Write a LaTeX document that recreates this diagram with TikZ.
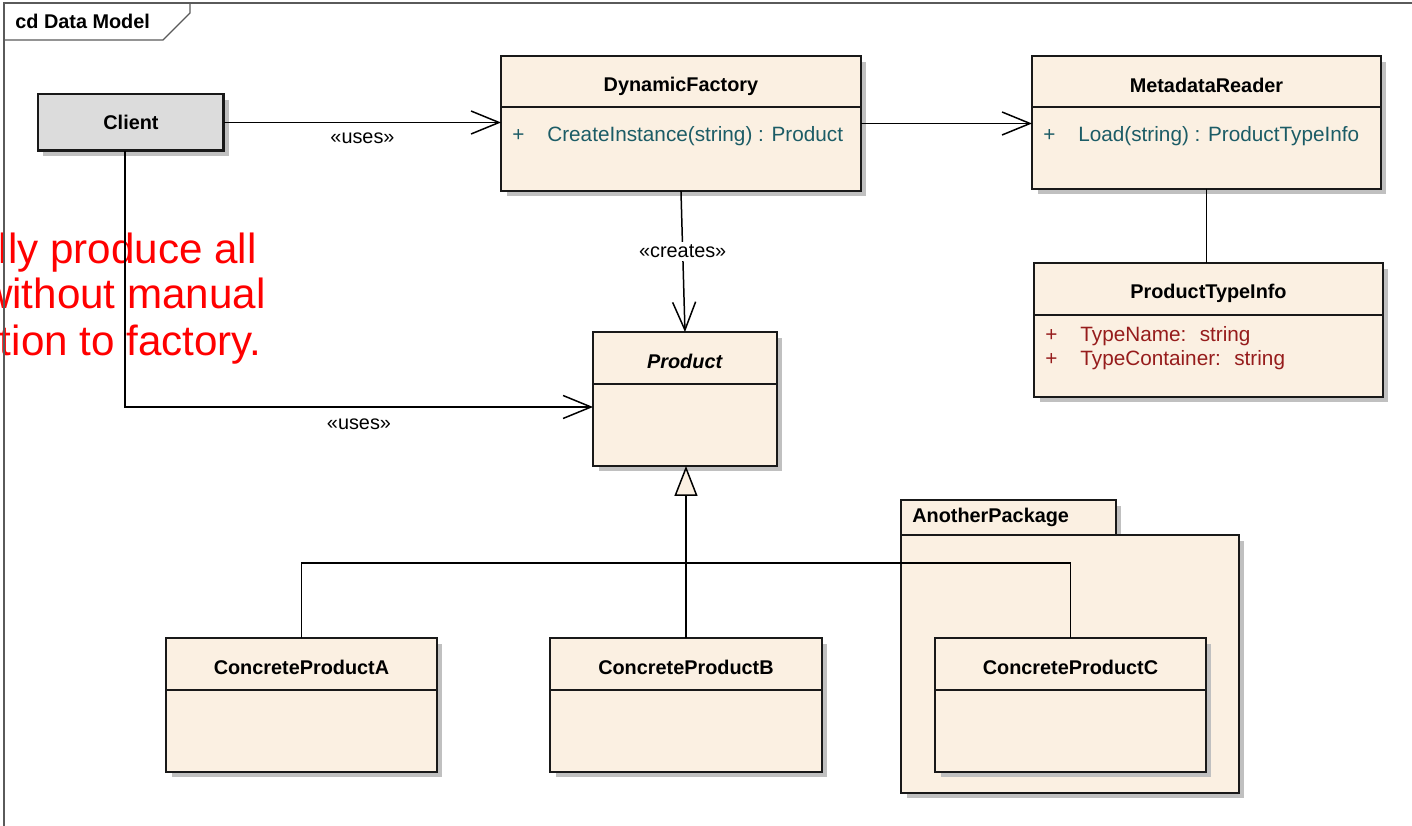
\documentclass[tikz,border=0pt]{standalone}
\usepackage{fontspec}
\setmainfont{Liberation Sans}
\usetikzlibrary{positioning}
\usetikzlibrary{arrows.meta}
\usetikzlibrary{shadows}

\definecolor{classfill}{RGB}{251,240,226}
\definecolor{clientfill}{RGB}{220,220,220}
\definecolor{shadowgray}{RGB}{192,192,192}
\definecolor{opteal}{RGB}{28,92,102}
\definecolor{attrred}{RGB}{150,28,28}
\definecolor{memored}{RGB}{255,0,0}
\definecolor{framegray}{RGB}{90,90,90}

\newcommand{\umlsize}{\fontsize{11.3pt}{13.5pt}\selectfont}
\newcommand{\membersize}{\fontsize{11.8pt}{14pt}\selectfont}
\newcommand{\memosize}{\fontsize{24pt}{28pt}\selectfont}

\tikzset{
  classbox/.style={draw=black!90, line width=1.1pt, fill=classfill, inner sep=0pt,
    outer sep=0pt, anchor=north west,
    drop shadow={shadow xshift=0.11cm, shadow yshift=-0.11cm, fill=shadowgray, opacity=1}},
  clientbox/.style={classbox, fill=clientfill, line width=1.7pt, font=\umlsize\bfseries},
  divider/.style={line width=0.9pt, black!90},
  ctitle/.style={font=\umlsize\bfseries, inner sep=0pt},
  opline/.style={font=\membersize, text=opteal, inner sep=0pt},
  attrline/.style={opline, text=attrred},
  uses/.style={line width=0.85pt, -{Straight Barb[length=0.56cm, width=0.46cm]}},
  inherit/.style={line width=0.85pt, -{Triangle[length=0.6cm, width=0.46cm, fill=classfill]}},
  plainline/.style={line width=0.85pt},
  stereo/.style={font=\umlsize, inner sep=1.5pt},
  memo/.style={font=\memosize, text=memored, inner sep=0pt, anchor=base east},
}

\begin{document}
\begin{tikzpicture}[x=0.02cm, y=-0.02cm]
    \useasboundingbox (0,0) rectangle (1412,825);
    \clip (0,0) rectangle (1412,825);
    %% 注释文字
    \node[memo] (memo1) at (257,263) {lly produce all};
    \node[memo] (memo2) at (266,308) {without manual};
    \node[memo] (memo3) at (262,355) {tion to factory.};
    %% 框架
    \draw[framegray, line width=0.8pt] (4,3) rectangle (1440,850);
    \draw[framegray, line width=0.8pt] (4,40) -- (163,40) -- (190,13) -- (190,3);
    \node[ctitle, anchor=west] (frametitle) at (15,21) {cd Data Model};
    %% 类
    \node[clientbox, minimum width=3.72cm, minimum height=1.14cm] (client) at (38,94) {Client};
    \node[classbox, minimum width=7.2cm, minimum height=2.7cm] (df) at (501,56) {};
    \node[classbox, minimum width=6.98cm, minimum height=2.66cm] (mr) at (1032,56) {};
    \node[classbox, minimum width=6.98cm, minimum height=2.68cm] (pti) at (1034,263) {};
    \node[classbox, minimum width=3.68cm, minimum height=2.68cm] (prod) at (593,332) {};
    %% 包
    \node[classbox, minimum width=4.3cm, minimum height=0.7cm] (pkgtab) at (901,500) {};
    \node[classbox, minimum width=6.76cm, minimum height=5.16cm] (pkg) at (901,535) {};
    \node[ctitle, right=0.22cm of pkgtab.west] (pkgname) {AnotherPackage};
    %---
    \node[classbox, minimum width=5.42cm, minimum height=2.68cm] (cpa) at (166,638) {};
    \node[classbox, minimum width=5.44cm, minimum height=2.68cm] (cpb) at (550,638) {};
    \node[classbox, minimum width=5.42cm, minimum height=2.68cm] (cpc) at (935,638) {};
    %% 分隔线
    \draw[divider] ([yshift=-1.02cm]df.north west) -- ([yshift=-1.02cm]df.north east);
    \draw[divider] ([yshift=-1.02cm]mr.north west) -- ([yshift=-1.02cm]mr.north east);
    \draw[divider] ([yshift=-1.04cm]pti.north west) -- ([yshift=-1.04cm]pti.north east);
    \draw[divider] ([yshift=-1.04cm]prod.north west) -- ([yshift=-1.04cm]prod.north east);
    \draw[divider] ([yshift=-1.04cm]cpa.north west) -- ([yshift=-1.04cm]cpa.north east);
    \draw[divider] ([yshift=-1.04cm]cpb.north west) -- ([yshift=-1.04cm]cpb.north east);
    \draw[divider] ([yshift=-1.04cm]cpc.north west) -- ([yshift=-1.04cm]cpc.north east);
    %% 类名
    \node[ctitle, below=0.6cm of df.north, anchor=center] (dfname) {DynamicFactory};
    \node[ctitle, below=0.58cm of mr.north, anchor=center] (mrname) {MetadataReader};
    \node[ctitle, below=0.6cm of pti.north, anchor=center] (ptiname) {ProductTypeInfo};
    \node[ctitle, below=0.58cm of prod.north, anchor=center] (prodname) {\textit{Product}};
    \node[ctitle, below=0.58cm of cpa.north, anchor=center] (cpaname) {ConcreteProductA};
    \node[ctitle, below=0.58cm of cpb.north, anchor=center] (cpbname) {ConcreteProductB};
    \node[ctitle, below=0.58cm of cpc.north, anchor=center] (cpcname) {ConcreteProductC};
    %% 成员
    \node[opline, below right=1.6cm and 0.22cm of df.north west, anchor=west] (dfop)
    {\makebox[0.7cm][l]{+}CreateInstance(string) : Product};
    \node[opline, below right=1.6cm and 0.22cm of mr.north west, anchor=west] (mrop)
    {\makebox[0.7cm][l]{+}Load(string) : ProductTypeInfo};
    \node[attrline, below right=1.46cm and 0.22cm of pti.north west, anchor=west] (ptia)
    {\makebox[0.7cm][l]{+}TypeName: \ string};
    \node[attrline, below right=1.94cm and 0.22cm of pti.north west, anchor=west] (ptib)
    {\makebox[0.7cm][l]{+}TypeContainer: \ string};
    %% 连线
    \draw[uses] (client.east) -- (client.east -| df.west)
    node[stereo, pos=0.5, yshift=-0.32cm] (uses1) {«uses»};
    \draw[uses] (df.east) -- (df.east -| mr.west);
    \draw[plainline] (mr.south) -- (mr.south |- pti.north);
    \draw[uses] (df.south) -- (prod.north)
    node[stereo, fill=white, pos=0.43] (creates) {«creates»};
    \draw[uses] ([xshift=-0.12cm]client.south) |- ([yshift=-0.16cm]prod.west)
    node[stereo, pos=0.75, yshift=-0.34cm] (uses2) {«uses»};
    % 继承
    \coordinate (genjoin) at (cpb.north |- 0,563);
    \draw[inherit] (cpb.north) -- (cpb.north |- prod.south);
    \draw[plainline] (cpa.north) |- (genjoin) -| (cpc.north);
\end{tikzpicture}
\end{document}
